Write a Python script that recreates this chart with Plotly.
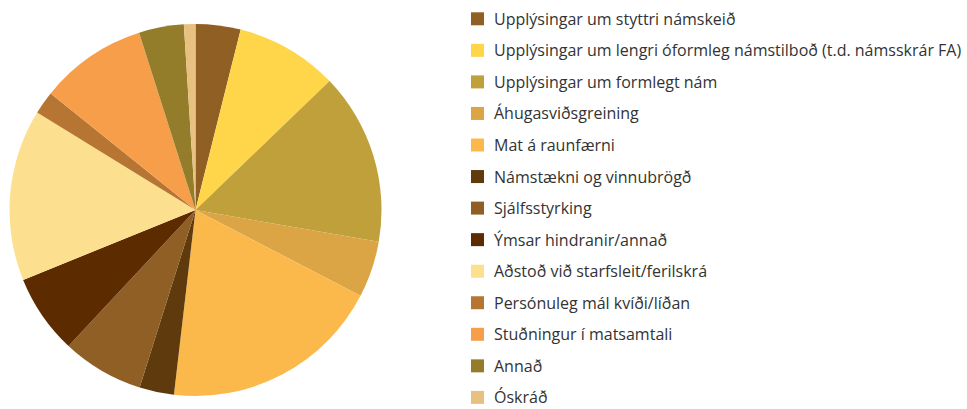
import plotly.graph_objects as go

labels = [
    "Upplýsingar um styttri námskeið",
    "Upplýsingar um lengri óformleg námstilboð (t.d. námsskrár FA)",
    "Upplýsingar um formlegt nám",
    "Áhugasviðsgreining",
    "Mat á raunfærni",
    "Námstækni og vinnubrögð",
    "Sjálfsstyrking",
    "Ýmsar hindranir/annað",
    "Aðstoð við starfsleit/ferilskrá",
    "Persónuleg mál kvíði/líðan",
    "Stuðningur í matsamtali",
    "Annað",
    "Óskráð",
]
values = [3.9, 8.9, 14.9, 4.9, 19.2, 3.0, 7.1, 6.9, 14.9, 2.0, 9.3, 3.9, 1.0]
colors = [
    "#8F5F24", "#FFD54A", "#BFA03A", "#DBA444", "#FBB94B", "#5E3A0C",
    "#905F25", "#5C2B00", "#FDE08F", "#B67533", "#F69E49", "#937D2B", "#E8C07F",
]

W, H = 967, 409

fig = go.Figure()
fig.add_trace(go.Pie(
    labels=labels, values=values, sort=False, direction="clockwise", rotation=0,
    marker=dict(colors=colors, line=dict(width=0)),
    textinfo="none", showlegend=False,
    domain=dict(x=[9.5 / W, 381.5 / W], y=[13 / H, 385 / H]),
))

# manual legend
row0, step = 18.8, 31.55
shapes, annotations = [], []
for i, (lab, col) in enumerate(zip(labels, colors)):
    yc = row0 + i * step
    shapes.append(dict(type="rect", xref="paper", yref="paper",
                       x0=471 / W, x1=484 / W, y0=1 - (yc + 6.5) / H, y1=1 - (yc - 6.5) / H,
                       fillcolor=col, line=dict(width=0)))
    annotations.append(dict(text=lab, xref="paper", yref="paper", x=493 / W, y=1 - yc / H,
                            xanchor="left", yanchor="middle", showarrow=False, borderpad=0,
                            font=dict(family="Open Sans", size=16, color="#333333")))

fig.update_layout(
    width=W, height=H, margin=dict(l=0, r=0, t=0, b=0),
    paper_bgcolor="white", plot_bgcolor="white",
    shapes=shapes, annotations=annotations,
)
fig.write_html("out.html", config={"displayModeBar": False},
               post_script="document.body.style.margin='0';document.body.style.overflow='hidden';")
